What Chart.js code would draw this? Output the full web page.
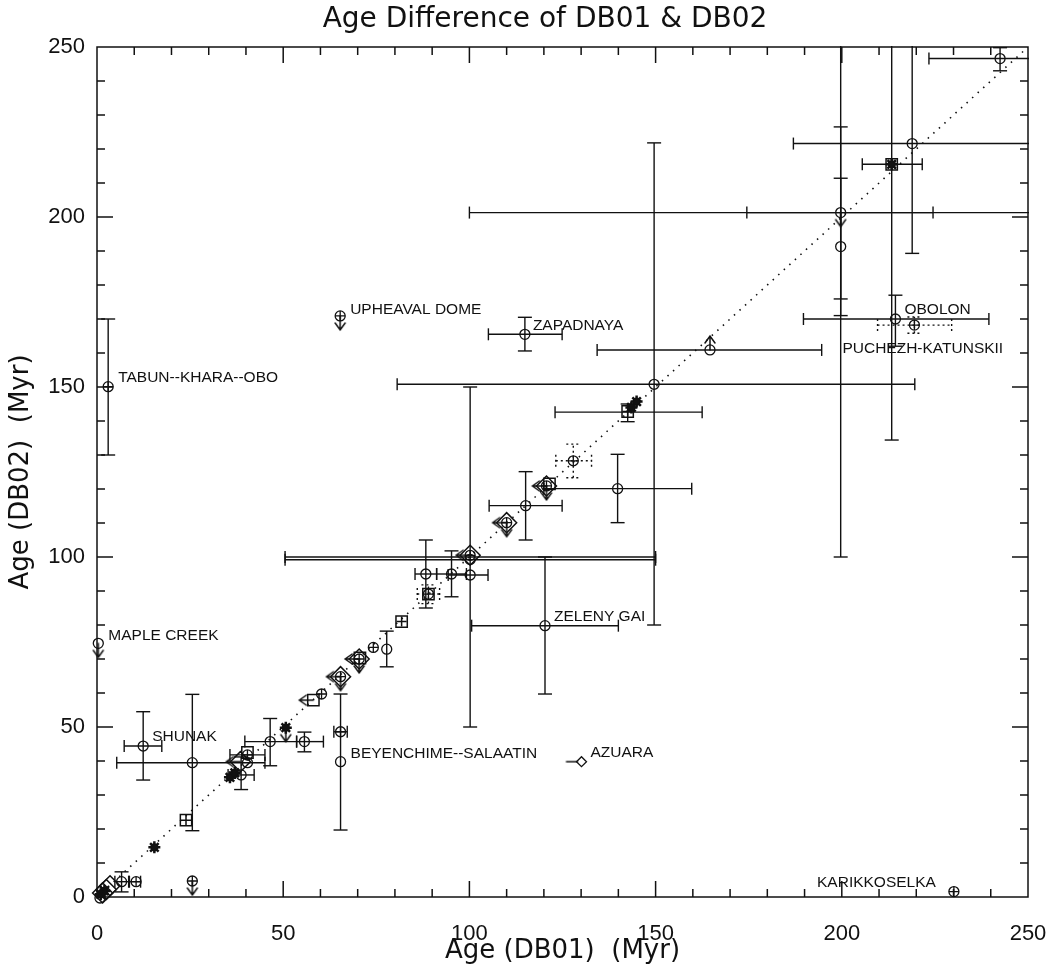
<!DOCTYPE html>
<html>
<head>
<meta charset="utf-8">
<script src="https://cdn.jsdelivr.net/npm/chart.js@4.4.0/dist/chart.umd.min.js"></script>
<style>
html,body{margin:0;padding:0;background:#fff;}
canvas{display:block;}
</style>
</head>
<body>
<canvas id="c" width="1054" height="967"></canvas>
<script>
// ================= DATA =================
const chartTitle = 'Age Difference of DB01 & DB02';
const xAxisTitle = 'Age (DB01)  (Myr)';
const yAxisTitle = 'Age (DB02)  (Myr)';
const xTickValues = [0, 50, 100, 150, 200, 250];
const yTickValues = [0, 50, 100, 150, 200, 250];

// 1:1 reference line
const diagX = [0, 250];
const diagY = [0, 250];

// open circles
const circleX = [242.5, 218.9, 199.7, 199.7, 214.4, 164.6, 149.6, 139.8, 115.1, 114.9, 100.2, 100.2, 95.2, 88.3, 77.8, 65.4, 55.7, 46.5, 40.4, 38.7, 25.6, 12.4, 6.6, 0.35, 120.3, 0.8];
const circleY = [246.6, 221.6, 201.3, 191.3, 170.0, 160.9, 150.8, 120.1, 115.1, 165.5, 99.3, 94.7, 95.0, 95.0, 72.9, 39.8, 45.7, 45.7, 39.5, 35.9, 39.5, 44.4, 4.5, 74.6, 79.8, -0.3];

// circles with a cross inside
const crossCircleX = [219.5, 127.9, 120.7, 110.0, 100.2, 89.0, 74.2, 70.4, 65.4, 65.4, 60.3, 40.4, 65.3, 3.0, 230.1, 25.6, 10.5];
const crossCircleY = [168.2, 128.3, 120.9, 110.1, 100.5, 89.1, 73.4, 70.0, 64.8, 48.6, 59.7, 41.8, 170.9, 150.1, 1.6, 4.7, 4.5];

// diamonds
const diamondX = [120.7, 110.0, 100.2, 70.4, 65.4, 38.5, 1.5, 2.5, 3.5];
const diamondY = [120.9, 110.1, 100.5, 70.0, 64.8, 39.8, 1.2, 2.2, 3.3];
const smallDiamondX = [130.1];
const smallDiamondY = [39.8];

// squares (some with inner cross)
const squareX = [213.4, 142.5, 121.5, 89.0, 81.8, 70.6, 58.1, 40.4, 23.9];
const squareY = [215.5, 142.8, 121.5, 89.1, 81.0, 70.3, 57.9, 42.5, 22.6];
const squareCrossX = [142.5, 81.8, 23.9];
const squareCrossY = [142.8, 81.0, 22.6];

// filled stars
const starX = [213.4, 144.9, 143.5, 50.7, 35.7, 37.0, 15.4, 2.0, 1.0];
const starY = [215.5, 145.7, 144.0, 49.8, 35.2, 36.5, 14.6, 1.8, 0.8];

// limit arrows
const downArrowX = [199.7, 65.3, 25.6, 50.7, 110.0, 120.7, 65.4, 70.4, 0.35];
const downArrowY = [201.3, 170.9, 4.7, 49.8, 110.1, 120.9, 64.8, 70.0, 74.6];
const upArrowX = [164.6];
const upArrowY = [160.9];
const leftArrowX = [120.7, 110.0, 100.2, 70.4, 65.4, 58.1, 38.5];
const leftArrowY = [120.9, 110.1, 100.5, 70.0, 64.8, 57.9, 39.8];
const stubX = [130.1];
const stubY = [39.8];

// error bars (null = none); values beyond 250 are clipped by the frame
const errPX  = [242.5, 218.9, 213.4, 199.7, 199.7, 199.7, 214.4, 219.5, 164.6, 149.6, 142.5, 127.9, 139.8, 115.1, 114.9, 120.3, 100.2, 100.2, 100.2, 95.2, 88.3, 89.0, 77.8, 65.4, 65.4, 55.7, 46.5, 40.4, 38.7, 25.6, 12.4, 10.5, 6.6, 3.0];
const errPY  = [246.6, 221.6, 215.5, 201.3, 201.3, 191.3, 170.0, 168.2, 160.9, 150.8, 142.6, 128.3, 120.1, 115.1, 165.5, 79.8, 100.0, 99.2, 94.7, 95.0, 95.0, 89.1, 72.9, 48.6, 39.8, 45.7, 45.7, 41.8, 35.9, 39.5, 44.4, 4.5, 4.5, 150.1];
const errXLo = [223.4, 187.0, 205.5, 174.5, 100.0, null, 189.7, 209.6, 134.3, 80.6, 123.0, 123.2, 120.0, 105.3, 105.1, 100.6, 50.5, 50.5, 94.3, 91.2, 85.4, 86.0, null, 63.6, null, 53.6, 39.7, 35.7, 35.2, 5.3, 7.3, 8.7, 4.8, null];
const errXHi = [262, 262, 221.6, 224.5, 262, null, 239.5, 229.5, 194.6, 219.6, 162.5, 132.8, 159.7, 124.9, 124.9, 140.0, 150.0, 150.0, 105.0, 99.2, 91.2, 92.0, null, 67.2, null, 60.8, 53.6, 45.1, 42.2, 45.1, 17.4, 11.7, 8.5, null];
const errYLo = [243.0, 189.3, 134.4, 175.9, 100.0, 171.0, 162.0, 165.8, null, 80.0, 139.8, 123.3, 110.1, 105.0, 160.6, 59.7, 50.0, null, null, 88.3, 85.0, 86.3, 67.7, null, 19.7, 42.7, 38.6, null, 31.6, 19.5, 34.4, null, 1.5, 130.0];
const errYHi = [249.8, 262, 262, 226.5, 262, 211.4, 177.0, 170.6, null, 221.8, 145.0, 133.2, 130.2, 125.1, 170.5, 100.0, 150.0, null, null, 101.8, 105.0, 91.8, 78.2, null, 59.7, 48.5, 52.5, null, 41.2, 59.6, 54.5, null, 7.4, 170.0];
const errDottedIdx = [7, 11, 21];

// crater name annotations
const labelText = ['TABUN--KHARA--OBO', 'UPHEAVAL DOME', 'ZAPADNAYA', 'OBOLON', 'PUCHEZH-KATUNSKII', 'MAPLE CREEK', 'SHUNAK', 'BEYENCHIME--SALAATIN', 'ZELENY GAI', 'AZUARA', 'KARIKKOSELKA'];
const labelAtX = [3.0, 65.3, 114.9, 214.4, 219.5, 0.35, 12.4, 65.4, 120.3, 130.1, 230.1];
const labelAtY = [150.1, 170.9, 165.5, 170.0, 168.2, 74.6, 44.4, 39.8, 79.8, 39.8, 1.6];

// ================= STYLE =================
const labelOffsets = [[10, -9, 'left'], [10, -6, 'left'], [8, -9, 'left'], [9, -9, 'left'], [-72, 24, 'left'], [10, -8, 'left'], [9, -9, 'left'], [10, -8, 'left'], [9, -9, 'left'], [9, -9, 'left'], [-18, -9, 'right']];
const INK = '#111';
const TICK_FONT = '"Liberation Sans Narrow", "Liberation Sans", sans-serif';
const TEXT_FONT = '"DejaVu Sans", sans-serif';
const TITLE_CENTER = 545;

function pts(xs, ys) { return xs.map((v, i) => ({x: v, y: ys[i]})); }

function arrowCanvas(dir) {
  const c = document.createElement('canvas');
  c.width = 40; c.height = 40;
  const g = c.getContext('2d');
  g.strokeStyle = INK; g.lineWidth = 1.5; g.lineCap = 'round';
  g.translate(20, 20);
  const rot = {down: 0, up: Math.PI, left: Math.PI / 2, stub: Math.PI / 2}[dir];
  g.rotate(rot);
  g.beginPath();
  if (dir === 'stub') { g.moveTo(0, 4); g.lineTo(0, 15); }
  else { g.moveTo(0, 0); g.lineTo(0, 14); g.moveTo(-5, 7); g.lineTo(0, 14); g.lineTo(5, 7); }
  g.stroke();
  return c;
}

function markerSet(label, xs, ys, style) {
  return Object.assign({
    type: 'scatter', label, data: pts(xs, ys), showLine: false, clip: false,
    pointBackgroundColor: 'rgba(0,0,0,0)', pointBorderColor: INK,
    pointBorderWidth: 1.3, pointHoverRadius: 0
  }, style);
}

const overlay = {
  id: 'overlay',
  afterLayout(chart) {
    const t = chart.titleBlock;
    if (t) { const w = t.right - t.left; t.left = TITLE_CENTER - w / 2; t.right = TITLE_CENTER + w / 2; }
  },
  beforeDatasetsDraw(chart) {
    const {ctx, chartArea: a, scales: {x, y}} = chart;
    ctx.save();
    ctx.beginPath();
    ctx.rect(a.left - 1, a.top - 1, a.right - a.left + 2, a.bottom - a.top + 2);
    ctx.clip();
    ctx.strokeStyle = INK;
    ctx.lineWidth = 1.4;
    const seg = (x0, y0, x1, y1) => { ctx.beginPath(); ctx.moveTo(x0, y0); ctx.lineTo(x1, y1); ctx.stroke(); };
    for (let i = 0; i < errPX.length; i++) {
      ctx.setLineDash(errDottedIdx.includes(i) ? [2, 3] : []);
      const px = x.getPixelForValue(errPX[i]);
      const py = y.getPixelForValue(errPY[i]);
      if (errXLo[i] !== null) {
        const x0 = x.getPixelForValue(errXLo[i]), x1 = x.getPixelForValue(errXHi[i]);
        seg(x0, py, x1, py); seg(x0, py - 6, x0, py + 6); seg(x1, py - 6, x1, py + 6);
      }
      if (errYLo[i] !== null) {
        const y0 = y.getPixelForValue(errYLo[i]), y1 = y.getPixelForValue(errYHi[i]);
        seg(px, y0, px, y1); seg(px - 7, y0, px + 7, y0); seg(px - 7, y1, px + 7, y1);
      }
    }
    ctx.restore();
  },
  afterDraw(chart) {
    const {ctx, chartArea: a, scales: {x, y}} = chart;
    ctx.save();
    ctx.strokeStyle = INK;
    ctx.lineWidth = 1.5;
    ctx.strokeRect(a.left, a.top, a.right - a.left, a.bottom - a.top);
    const seg = (x0, y0, x1, y1) => { ctx.beginPath(); ctx.moveTo(x0, y0); ctx.lineTo(x1, y1); ctx.stroke(); };
    for (let v = 10; v < 250; v += 10) {
      const len = v % 50 === 0 ? 16 : 8;
      const px = x.getPixelForValue(v), py = y.getPixelForValue(v);
      seg(px, a.bottom, px, a.bottom - len);
      seg(px, a.top, px, a.top + len);
      seg(a.left, py, a.left + len, py);
      seg(a.right, py, a.right - len, py);
    }
    ctx.fillStyle = INK;
    ctx.font = '15.5px "Liberation Sans", sans-serif';
    ctx.textBaseline = 'middle';
    for (let i = 0; i < labelText.length; i++) {
      const [dx, dy, al] = labelOffsets[i];
      ctx.textAlign = al;
      ctx.fillText(labelText[i], x.getPixelForValue(labelAtX[i]) + dx, y.getPixelForValue(labelAtY[i]) + dy);
    }
    ctx.restore();
  }
};

const datasets = [
  {type: 'line', label: '1:1', data: pts(diagX, diagY), borderColor: INK, borderWidth: 1.6,
   borderDash: [1.5, 6], pointRadius: 0, fill: false, tension: 0},
  markerSet('circle', circleX, circleY, {pointStyle: 'circle', pointRadius: 5}),
  markerSet('crossed circle', crossCircleX, crossCircleY, {pointStyle: 'circle', pointRadius: 5}),
  markerSet('crossed circle +', crossCircleX, crossCircleY, {pointStyle: 'cross', pointRadius: 5}),
  markerSet('diamond', diamondX, diamondY, {pointStyle: 'rectRot', pointRadius: 10, pointBorderWidth: 1.5}),
  markerSet('small diamond', smallDiamondX, smallDiamondY, {pointStyle: 'rectRot', pointRadius: 5}),
  markerSet('square', squareX, squareY, {pointStyle: 'rect', pointRadius: 8, pointBorderWidth: 1.5}),
  markerSet('square +', squareCrossX, squareCrossY, {pointStyle: 'cross', pointRadius: 5, pointBorderWidth: 1.5}),
  markerSet('star fill', starX, starY, {pointStyle: 'circle', pointRadius: 3.5, pointBackgroundColor: INK}),
  markerSet('star', starX, starY, {pointStyle: 'star', pointRadius: 6, pointBorderWidth: 2.5}),
  markerSet('down', downArrowX, downArrowY, {pointStyle: arrowCanvas('down'), pointRadius: 5}),
  markerSet('up', upArrowX, upArrowY, {pointStyle: arrowCanvas('up'), pointRadius: 5}),
  markerSet('left', leftArrowX, leftArrowY, {pointStyle: arrowCanvas('left'), pointRadius: 5}),
  markerSet('stub', stubX, stubY, {pointStyle: arrowCanvas('stub'), pointRadius: 5})
];

function zeroPad(s) { s.paddingLeft = 0; s.paddingRight = 0; s.paddingTop = 0; s.paddingBottom = 0; }

new Chart(document.getElementById('c'), {
  type: 'scatter',
  data: {datasets},
  plugins: [overlay],
  options: {
    responsive: false,
    animation: false,
    devicePixelRatio: 1,
    layout: {padding: {left: 0, right: 26, top: 0, bottom: 0}},
    plugins: {
      legend: {display: false},
      tooltip: {enabled: false},
      title: {
        display: true, text: chartTitle, fullSize: false, color: INK,
        font: {family: TEXT_FONT, size: 28, weight: 'normal'},
        padding: {top: 3, bottom: 10.4}
      }
    },
    scales: {
      x: {
        type: 'linear', min: 0, max: 250,
        afterBuildTicks: s => { s.ticks = xTickValues.map(v => ({value: v})); },
        afterFit: s => { s.height = 70; zeroPad(s); },
        grid: {display: false, drawTicks: false},
        border: {display: false},
        ticks: {color: INK, padding: 24, font: {family: TICK_FONT, size: 22}},
        title: {display: true, text: xAxisTitle, color: INK, font: {family: TEXT_FONT, size: 26}, padding: {top: 0, bottom: 0}}
      },
      y: {
        type: 'linear', min: 0, max: 250,
        afterBuildTicks: s => { s.ticks = yTickValues.map(v => ({value: v})); },
        afterFit: s => { s.width = 97; zeroPad(s); },
        grid: {display: false, drawTicks: false},
        border: {display: false},
        ticks: {color: INK, padding: 12, font: {family: TICK_FONT, size: 22}},
        title: {display: true, text: yAxisTitle, color: INK, font: {family: TEXT_FONT, size: 26}, padding: {top: 6, bottom: 0}}
      }
    }
  }
});
</script>
</body>
</html>
